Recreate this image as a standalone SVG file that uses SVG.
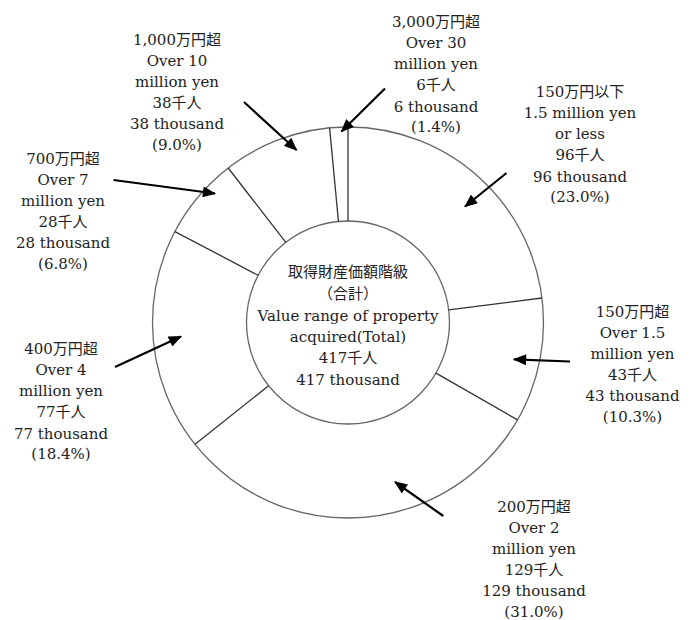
<svg xmlns="http://www.w3.org/2000/svg" width="696" height="620" viewBox="0 0 696 620">
<style>
text{font-family:"DejaVu Serif","Noto Sans CJK JP",serif;font-size:15px;fill:#222;text-anchor:middle}
.ring{fill:none;stroke:#666;stroke-width:1.3}
.sep{stroke:#333;stroke-width:1.3}
.arr{stroke:#000;stroke-width:2.2;fill:none;marker-end:url(#ah)}
</style>
<defs>
<marker id="ah" viewBox="0 0 12 10" refX="11" refY="5" markerWidth="14" markerHeight="11" markerUnits="userSpaceOnUse" orient="auto">
<path d="M0,0 L12,5 L0,10 z" fill="#000"/>
</marker>
</defs>
<rect width="696" height="620" fill="#fff"/>
<g id="chart">
<circle class="ring" cx="348" cy="322.5" r="195.5"/>
<circle class="ring" cx="348" cy="322.5" r="101.5"/>
<line class="sep" x1="348" y1="221" x2="348" y2="127"/>
<line class="sep" x1="448.7" y1="309.78" x2="541.96" y2="298"/>
<line class="sep" x1="436.01" y1="373.07" x2="517.51" y2="419.89"/>
<line class="sep" x1="268.59" y1="385.72" x2="195.05" y2="444.26"/>
<line class="sep" x1="258.14" y1="275.29" x2="174.93" y2="231.57"/>
<line class="sep" x1="285.79" y1="242.3" x2="228.18" y2="168.02"/>
<line class="sep" x1="338.45" y1="221.45" x2="329.6" y2="127.87"/>
</g>
<g id="center">
<text x="348" y="277">取得財産価額階級</text>
<text x="348" y="298.5">（合計）</text>
<text x="348" y="320.5">Value range of property</text>
<text x="348" y="342">acquired(Total)</text>
<text x="348" y="363">417千人</text>
<text x="348" y="384.5">417 thousand</text>
</g>
<g id="connectors">
<line class="arr" x1="244" y1="102" x2="296.5" y2="150"/>
<line class="arr" x1="385" y1="88.5" x2="341.5" y2="131.5"/>
<line class="arr" x1="506.5" y1="173" x2="465" y2="206.5"/>
<line class="arr" x1="113.5" y1="180" x2="215" y2="193.5"/>
<line class="arr" x1="115" y1="367" x2="181" y2="336.5"/>
<line class="arr" x1="570" y1="361.5" x2="514" y2="359.3"/>
<line class="arr" x1="443.3" y1="516" x2="395" y2="482"/>
</g>
<g id="n1000">
<text x="177" y="45">1,000万円超</text>
<text x="177" y="66"> Over 10</text>
<text x="177" y="86.5">million yen</text>
<text x="177" y="107.5">38千人</text>
<text x="177" y="128.5">38 thousand</text>
<text x="177" y="149.5">(9.0%)</text>
</g>
<g id="n3000">
<text x="436" y="27">3,000万円超</text>
<text x="436" y="48"> Over 30</text>
<text x="436" y="69">million yen</text>
<text x="436" y="90">6千人</text>
<text x="436" y="111.5">6 thousand</text>
<text x="436" y="132">(1.4%)</text>
</g>
<g id="n150less">
<text x="580" y="97">150万円以下</text>
<text x="580" y="118">1.5 million yen</text>
<text x="580" y="139">or less</text>
<text x="580" y="160">96千人</text>
<text x="580" y="181.5">96 thousand</text>
<text x="580" y="202">(23.0%)</text>
</g>
<g id="n700">
<text x="63" y="163.5">700万円超</text>
<text x="63" y="184.5">Over 7</text>
<text x="63" y="205.5">million yen</text>
<text x="63" y="226.5">28千人</text>
<text x="63" y="247.5">28 thousand</text>
<text x="63" y="268.5">(6.8%)</text>
</g>
<g id="n400">
<text x="61" y="354">400万円超</text>
<text x="61" y="375">Over 4</text>
<text x="61" y="396">million yen</text>
<text x="61" y="417">77千人</text>
<text x="61" y="438.5">77 thousand</text>
<text x="61" y="459">(18.4%)</text>
</g>
<g id="n150over">
<text x="632.5" y="317">150万円超</text>
<text x="632.5" y="338"> Over 1.5</text>
<text x="632.5" y="359">million yen</text>
<text x="632.5" y="380">43千人</text>
<text x="632.5" y="401">43 thousand</text>
<text x="632.5" y="422">(10.3%)</text>
</g>
<g id="n200">
<text x="534" y="512">200万円超</text>
<text x="534" y="533"> Over 2</text>
<text x="534" y="554">million yen</text>
<text x="534" y="575">129千人</text>
<text x="534" y="596">129 thousand</text>
<text x="534" y="617">(31.0%)</text>
</g>
</svg>
